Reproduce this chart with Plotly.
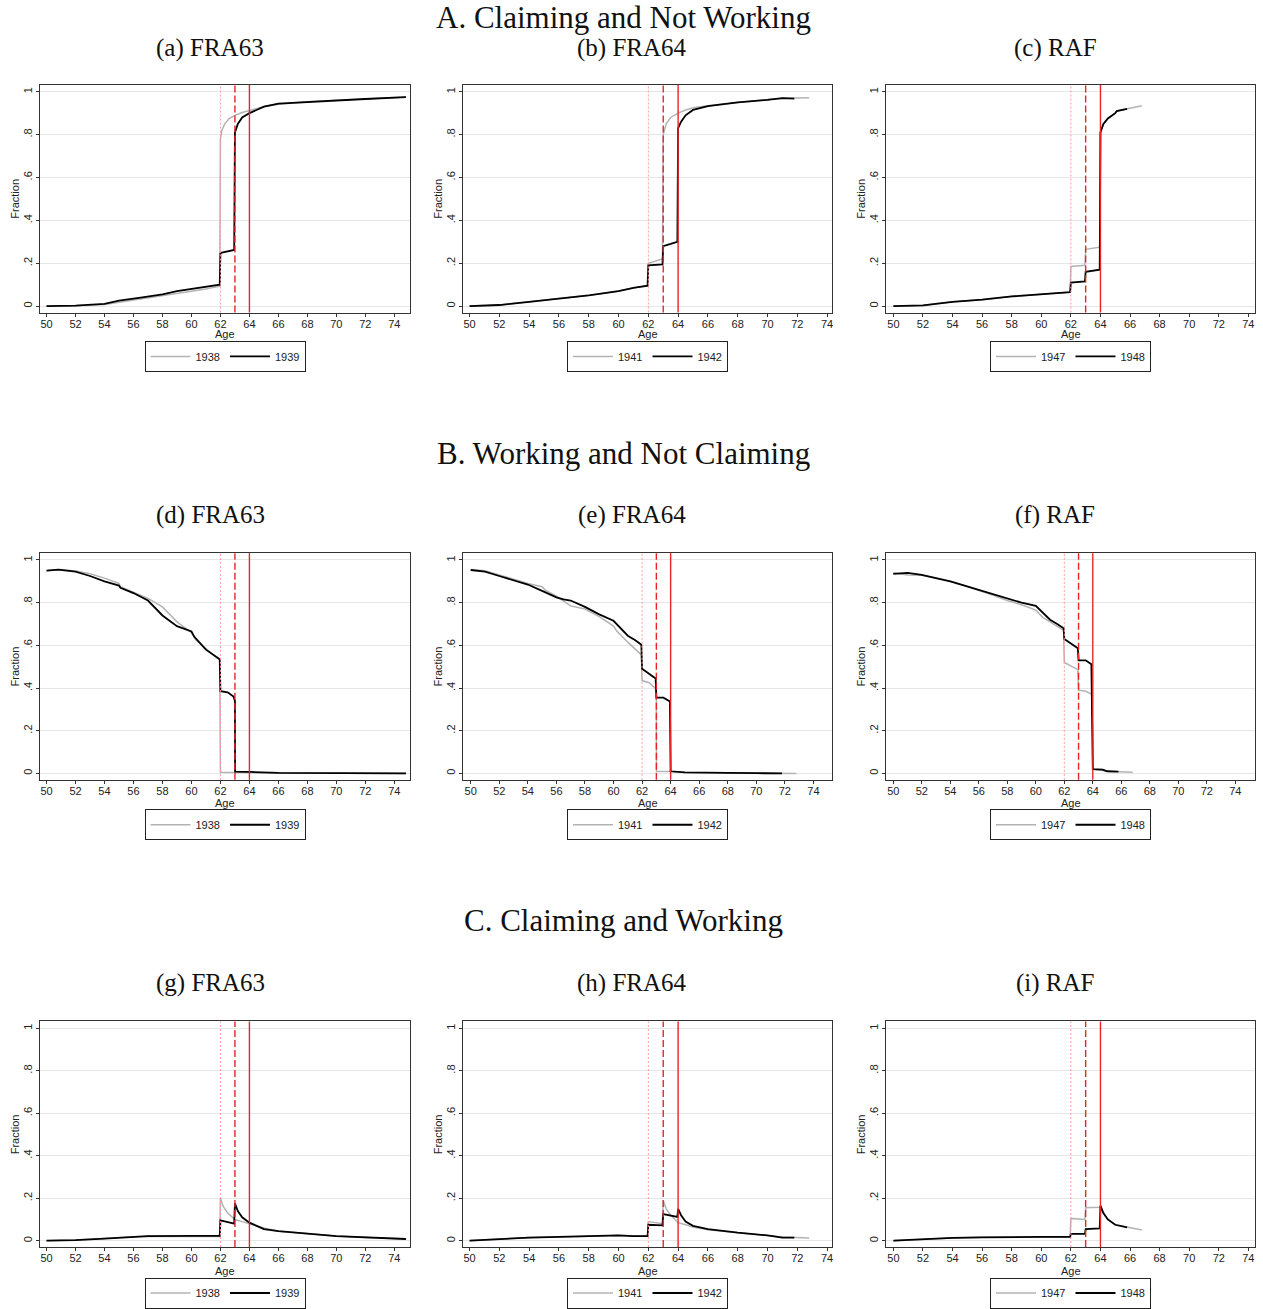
import plotly.graph_objects as go

# ---------------- data ----------------
row_titles = ["A. Claiming and Not Working", "B. Working and Not Claiming", "C. Claiming and Working"]
panel_titles = ["(a) FRA63", "(b) FRA64", "(c) RAF",
                "(d) FRA63", "(e) FRA64", "(f) RAF",
                "(g) FRA63", "(h) FRA64", "(i) RAF"]
cohorts = [("1938", "1939"), ("1941", "1942"), ("1947", "1948")]
ref_ages = [62, 63, 64]
x_ticks = list(range(50, 76, 2))
y_ticks = [0, 0.2, 0.4, 0.6, 0.8, 1]
y_ticktext = ["0", ".2", ".4", ".6", ".8", "1"]

# Panel A (claiming, not working)
a_old_x = [50, 52, 54, 55, 56, 58, 60, 61, 61.95, 62, 62.1, 62.3, 62.6, 63, 63.5, 64, 65, 66, 68, 70, 72, 74.8]
a_old_y = [0, 0.002, 0.008, 0.018, 0.028, 0.048, 0.068, 0.08, 0.093, 0.78, 0.82, 0.85, 0.875, 0.89, 0.903, 0.912, 0.93, 0.942, 0.953, 0.96, 0.966, 0.975]
a_new_x = [50, 52, 54, 55, 56.5, 58, 59, 60, 61, 61.95, 62, 62.1, 62.95, 63, 63.2, 63.5, 64, 64.7, 65, 66, 68, 70, 72, 74.8]
a_new_y = [0, 0.002, 0.01, 0.025, 0.04, 0.055, 0.07, 0.08, 0.09, 0.1, 0.245, 0.25, 0.262, 0.81, 0.85, 0.88, 0.9, 0.92, 0.93, 0.945, 0.953, 0.96, 0.966, 0.975]

b_old_x = [50, 52, 54, 56, 58, 60, 61, 61.95, 62, 62.95, 63, 63.2, 63.5, 64, 64.5, 65, 66, 68, 70, 71, 72.8]
b_old_y = [0, 0.005, 0.02, 0.035, 0.05, 0.07, 0.085, 0.095, 0.2, 0.22, 0.8, 0.85, 0.88, 0.9, 0.915, 0.925, 0.935, 0.95, 0.963, 0.97, 0.972]
b_new_x = [50, 52, 54, 56, 58, 60, 61, 61.95, 62, 62.95, 63, 63.5, 63.95, 64, 64.2, 64.5, 65, 66, 68, 70, 71, 71.8]
b_new_y = [0, 0.005, 0.02, 0.035, 0.05, 0.07, 0.085, 0.095, 0.19, 0.195, 0.28, 0.29, 0.3, 0.83, 0.86, 0.89, 0.915, 0.933, 0.95, 0.962, 0.97, 0.968]

c_old_x = [50, 52, 54, 56, 58, 60, 61.95, 62, 62.95, 63, 63.95, 64, 64.2, 64.5, 65, 65.1, 66, 66.8]
c_old_y = [0, 0.003, 0.02, 0.03, 0.045, 0.055, 0.065, 0.185, 0.19, 0.265, 0.275, 0.81, 0.85, 0.875, 0.9, 0.91, 0.925, 0.935]
c_new_x = [50, 52, 54, 56, 58, 60, 61.95, 62, 62.95, 63, 63.95, 64, 64.2, 64.5, 65, 65.1, 65.8]
c_new_y = [0, 0.003, 0.02, 0.03, 0.045, 0.055, 0.065, 0.11, 0.115, 0.16, 0.17, 0.81, 0.85, 0.875, 0.9, 0.91, 0.92]

# Panel B (working, not claiming)
d_old_x = [50, 51, 52, 53, 54, 55, 55.1, 56, 57, 58, 59, 60, 60.3, 61, 61.95, 62, 63, 64, 66, 74.8]
d_old_y = [0.95, 0.955, 0.948, 0.935, 0.915, 0.89, 0.875, 0.85, 0.82, 0.78, 0.71, 0.66, 0.625, 0.585, 0.53, 0.005, 0.005, 0.004, 0.002, 0.0]
d_new_x = [50, 50.8, 52, 53, 54, 55, 55.1, 56, 57, 58, 59, 60, 60.2, 61, 61.95, 62, 62.5, 62.9, 63, 63.01, 64, 65, 66, 74.8]
d_new_y = [0.95, 0.955, 0.945, 0.925, 0.9, 0.88, 0.87, 0.845, 0.81, 0.74, 0.69, 0.665, 0.64, 0.58, 0.535, 0.385, 0.38, 0.36, 0.34, 0.008, 0.007, 0.003, 0.002, 0.0]

e_old_x = [50, 51, 52, 53, 54, 55, 55.2, 56, 57, 58, 59, 60, 60.2, 61, 61.95, 62, 62.5, 62.9, 63, 63.01, 64, 65, 68, 72.8]
e_old_y = [0.955, 0.95, 0.93, 0.91, 0.89, 0.875, 0.86, 0.83, 0.785, 0.77, 0.735, 0.69, 0.67, 0.615, 0.555, 0.435, 0.425, 0.4, 0.385, 0.01, 0.009, 0.004, 0.002, 0.0]
e_new_x = [50, 51, 52, 53, 54, 55, 56, 56.5, 57, 58, 59, 60, 60.5, 61, 61.5, 61.95, 62, 62.95, 63, 63.5, 63.95, 64, 65, 66, 68, 70, 71.8]
e_new_y = [0.953, 0.945, 0.925, 0.905, 0.885, 0.855, 0.825, 0.815, 0.81, 0.78, 0.745, 0.715, 0.68, 0.645, 0.625, 0.603, 0.49, 0.445, 0.355, 0.355, 0.337, 0.01, 0.005, 0.003, 0.002, 0.001, 0.0]

f_old_x = [50, 51, 52, 53, 54, 55, 56, 57, 58, 59, 60, 60.5, 61, 61.95, 62, 62.95, 63, 63.5, 63.95, 64, 65, 66, 66.8]
f_old_y = [0.94, 0.93, 0.928, 0.915, 0.9, 0.88, 0.858, 0.835, 0.81, 0.79, 0.765, 0.73, 0.71, 0.67, 0.52, 0.486, 0.39, 0.385, 0.37, 0.02, 0.01, 0.006, 0.005]
f_new_x = [50, 51, 52, 53, 54, 55, 56, 57, 58, 59, 60, 60.5, 61, 61.5, 61.95, 62, 62.95, 63, 63.5, 63.9, 64, 64.7, 65, 65.8]
f_new_y = [0.935, 0.94, 0.93, 0.915, 0.9, 0.88, 0.86, 0.84, 0.82, 0.8, 0.785, 0.75, 0.72, 0.7, 0.68, 0.63, 0.586, 0.53, 0.53, 0.512, 0.02, 0.018, 0.01, 0.008]

# Panel C (claiming and working)
g_old_x = [50, 52, 54, 55, 56, 57, 60, 61.95, 62, 62.2, 62.5, 63, 63.5, 64, 65, 66, 68, 70, 72, 74.8]
g_old_y = [0, 0.003, 0.01, 0.015, 0.019, 0.021, 0.021, 0.02, 0.2, 0.16, 0.13, 0.1, 0.09, 0.08, 0.06, 0.045, 0.032, 0.022, 0.015, 0.008]
g_new_x = [50, 52, 54, 55, 56, 57, 60, 61.95, 62, 62.95, 63, 63.2, 63.5, 64, 64.5, 65, 66, 67, 68, 70, 72, 74.8]
g_new_y = [0, 0.003, 0.01, 0.015, 0.02, 0.022, 0.023, 0.023, 0.096, 0.081, 0.176, 0.14, 0.11, 0.085, 0.07, 0.055, 0.045, 0.038, 0.033, 0.022, 0.016, 0.008]

h_old_x = [50, 52, 54, 56, 58, 60, 61, 61.95, 62, 62.5, 62.95, 63, 63.2, 63.5, 64, 64.5, 65, 66, 68, 70, 71, 72.8]
h_old_y = [0, 0.008, 0.015, 0.018, 0.022, 0.025, 0.022, 0.022, 0.09, 0.085, 0.08, 0.19, 0.15, 0.12, 0.085, 0.075, 0.065, 0.052, 0.038, 0.025, 0.017, 0.013]
h_new_x = [50, 52, 54, 56, 58, 60, 61, 61.95, 62, 62.95, 63, 63.5, 63.95, 64, 64.2, 64.5, 65, 66, 67, 68, 70, 71, 71.8]
h_new_y = [0, 0.008, 0.015, 0.018, 0.022, 0.025, 0.022, 0.022, 0.075, 0.072, 0.125, 0.12, 0.112, 0.15, 0.12, 0.09, 0.07, 0.055, 0.045, 0.038, 0.025, 0.015, 0.015]

i_old_x = [50, 52, 54, 56, 58, 60, 61.95, 62, 62.95, 63, 63.95, 64, 64.2, 64.5, 65, 66, 66.8]
i_old_y = [0, 0.008, 0.013, 0.016, 0.018, 0.018, 0.018, 0.105, 0.1, 0.155, 0.157, 0.16, 0.13, 0.1, 0.075, 0.06, 0.05]
i_new_x = [50, 52, 54, 56, 58, 60, 61.95, 62, 62.95, 63, 63.95, 64, 64.2, 64.5, 65, 65.5, 65.8]
i_new_y = [0, 0.008, 0.013, 0.016, 0.018, 0.018, 0.018, 0.032, 0.032, 0.055, 0.058, 0.165, 0.13, 0.1, 0.075, 0.068, 0.063]

series = [
    (a_old_x, a_old_y, a_new_x, a_new_y), (b_old_x, b_old_y, b_new_x, b_new_y), (c_old_x, c_old_y, c_new_x, c_new_y),
    (d_old_x, d_old_y, d_new_x, d_new_y), (e_old_x, e_old_y, e_new_x, e_new_y), (f_old_x, f_old_y, f_new_x, f_new_y),
    (g_old_x, g_old_y, g_new_x, g_new_y), (h_old_x, h_old_y, h_new_x, h_new_y), (i_old_x, i_old_y, i_new_x, i_new_y),
]
x_ranges = [[49.55, 75.08], [49.56, 74.33], [49.5, 74.45],
            [49.55, 75.08], [49.46, 75.3], [49.49, 75.38],
            [49.55, 75.08], [49.56, 74.33], [49.5, 74.45]]
y_range = [-0.03, 1.032]

# ---------------- layout geometry (pixels) ----------------
W, H = 1263, 1309
col_px = [(40, 410), (463, 832), (886, 1255)]
row_px = [(85, 313), (554, 781), (1023, 1249)]
row_title_y = [18, 454, 922]
sub_title_y = [48, 516, 985]
legend_y = [357, 826, 1295]
age_label_y = [335, 804, 1273]
frac_label_x = [15, 438, 861]
graph_center_x = [210, 632, 1055]

SERIF = "Liberation Serif"
SANS = "Liberation Sans, Arial, sans-serif"
GRAY = "#b3b3b3"
BLACK = "#000000"
TXT = "#222222"

fig = go.Figure()
layout = dict(width=W, height=H, margin=dict(l=0, r=0, t=0, b=0),
              paper_bgcolor="white", plot_bgcolor="white", showlegend=True)
annotations = []
shapes = []

for k in range(9):
    r, c = divmod(k, 3)
    idx = "" if k == 0 else str(k + 1)
    xa, ya = "x" + idx, "y" + idx
    lg = "legend" + idx
    ox, oy, nx, ny = series[k]
    old_lab, new_lab = cohorts[c]
    fig.add_trace(go.Scatter(x=ox, y=oy, mode="lines", name=old_lab, xaxis=xa, yaxis=ya, legend=lg,
                             line=dict(color=GRAY, width=1.5), hoverinfo="skip"))
    fig.add_trace(go.Scatter(x=nx, y=ny, mode="lines", name=new_lab, xaxis=xa, yaxis=ya, legend=lg,
                             line=dict(color=BLACK, width=1.8), hoverinfo="skip"))
    x0, x1 = col_px[c]
    y0, y1 = row_px[r]
    layout["xaxis" + idx] = dict(
        domain=[x0 / W, x1 / W], anchor=ya, range=x_ranges[k],
        tickvals=x_ticks, ticks="outside", ticklen=3, tickcolor="#333",
        ticklabelstandoff=-2,
        tickfont=dict(family=SANS, size=11, color=TXT),
        showgrid=False, zeroline=False, showline=True, mirror=True,
        linecolor="#333", linewidth=1.2,
    )
    layout["yaxis" + idx] = dict(
        domain=[1 - y1 / H, 1 - y0 / H], anchor=xa, range=y_range,
        tickvals=y_ticks, ticktext=y_ticktext, tickangle=-90,
        ticks="outside", ticklen=3, tickcolor="#333",
        tickfont=dict(family=SANS, size=11, color=TXT),
        showgrid=True, gridcolor="#e6e6e6", gridwidth=1, zeroline=False,
        showline=True, mirror=True, linecolor="#333", linewidth=1.2,
    )
    layout[lg] = dict(
        orientation="h", x=(x0 + x1) / 2 / W, y=1 - legend_y[r] / H,
        xanchor="center", yanchor="middle", bordercolor="#222", borderwidth=1,
        bgcolor="white", font=dict(family=SANS, size=11, color=TXT),
        itemwidth=40, tracegroupgap=0, itemclick=False, itemdoubleclick=False,
    )
    # reference age lines
    styles = [dict(color="#ff9a9a", width=1, dash="2px,2px"),
              dict(color="#e8242a", width=1.4, dash="7px,3px"),
              dict(color="#e8242a", width=1.4, dash="solid")]
    for age, st in zip(ref_ages, styles):
        shapes.append(dict(type="line", xref=xa, yref=ya + " domain", x0=age, x1=age, y0=0, y1=1,
                           line=st, layer="above"))
    annotations.append(dict(text=panel_titles[k], x=graph_center_x[c] / W, y=1 - sub_title_y[r] / H,
                            xref="paper", yref="paper", xanchor="center", yanchor="middle",
                            showarrow=False, font=dict(family=SERIF, size=25, color="#111")))
    annotations.append(dict(text="Age", x=(x0 + x1) / 2 / W, y=1 - age_label_y[r] / H,
                            xref="paper", yref="paper", xanchor="center", yanchor="middle",
                            showarrow=False, font=dict(family=SANS, size=11, color=TXT)))
    annotations.append(dict(text="Fraction", x=frac_label_x[c] / W, y=1 - (y0 + y1) / 2 / H,
                            xref="paper", yref="paper", xanchor="center", yanchor="middle",
                            textangle=-90, showarrow=False, font=dict(family=SANS, size=11, color=TXT)))

for r in range(3):
    annotations.append(dict(text=row_titles[r], x=623 / W, y=1 - row_title_y[r] / H,
                            xref="paper", yref="paper", xanchor="center", yanchor="middle",
                            showarrow=False, font=dict(family=SERIF, size=31, color="#111")))

layout["annotations"] = annotations
layout["shapes"] = shapes
fig.update_layout(**layout)
fig.write_html("out.html")
